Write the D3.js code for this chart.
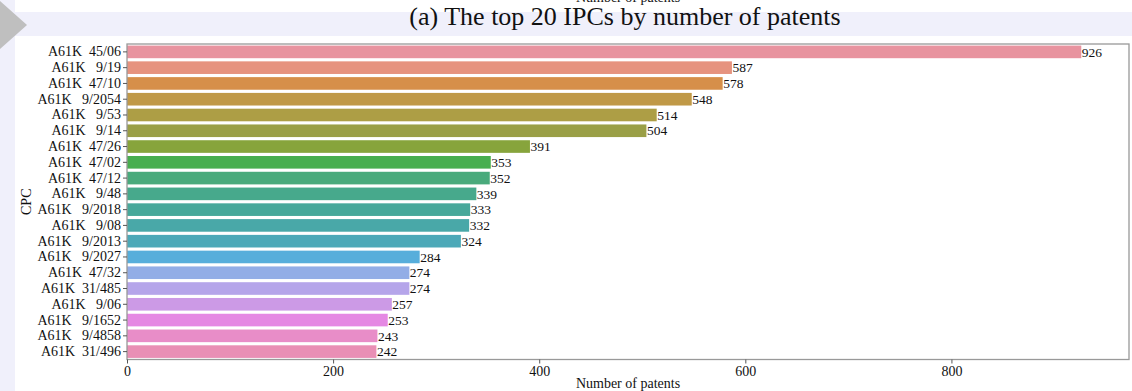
<!DOCTYPE html>
<html>
<head>
<meta charset="utf-8">
<script src="https://cdn.jsdelivr.net/npm/d3@7"></script>
<style>
  html, body { margin: 0; padding: 0; background: #ffffff; }
  svg { display: block; }
  text { font-family: "Liberation Serif", "Times New Roman", serif; fill: #111; }
</style>
</head>
<body>
<svg id="chart" width="1132" height="391"></svg>
<script>
// IPC codes, ordered by patent count
const categories = [
  "A61K  45/06", "A61K   9/19", "A61K  47/10", "A61K   9/2054", "A61K   9/53",
  "A61K   9/14", "A61K  47/26", "A61K  47/02", "A61K  47/12", "A61K   9/48",
  "A61K   9/2018", "A61K   9/08", "A61K   9/2013", "A61K   9/2027", "A61K  47/32",
  "A61K  31/485", "A61K   9/06", "A61K   9/1652", "A61K   9/4858", "A61K  31/496"
];
const counts = [926, 587, 578, 548, 514, 504, 391, 353, 352, 339, 333, 332, 324, 284, 274, 274, 257, 253, 243, 242];
const barColors = [
  "#e8939f", "#e6937f", "#d68f4a", "#c09947", "#ad9e45",
  "#9a9f46", "#87a43c", "#48ae4f", "#49aa7c", "#47a98c",
  "#47a89a", "#49a8a8", "#4ca9b8", "#57aedb", "#92ade6",
  "#b5a5ea", "#cc9ae6", "#e588e3", "#e88dc8", "#e98fb5"
];
const xTicks = [0, 200, 400, 600, 800];

const svg = d3.select("#chart");
const W = 1132, H = 391;

// page decoration: side strip, title band and marker
svg.append("rect").attr("x", 0).attr("y", 0).attr("width", 15).attr("height", H).attr("fill", "#f0f0fb");
svg.append("rect").attr("x", 15).attr("y", 12).attr("width", W - 15).attr("height", 24).attr("fill", "#f0f0fb");
svg.append("path").attr("d", "M0,1 L27,25 L0,49 Z").attr("fill", "#bfbfbf");

// stray axis caption at the very top edge
svg.append("text").attr("x", 628).attr("y", 2).attr("text-anchor", "middle")
  .style("font-size", "14px").text("Number of patents");

// title
svg.append("text").attr("x", 625).attr("y", 25).attr("text-anchor", "middle")
  .style("font-size", "26px").text("(a) The top 20 IPCs by number of patents");

const plot = { left: 127, right: 1129, top: 44, bottom: 359.5 };

const x = d3.scaleLinear().domain([0, 926 * 1.05]).range([plot.left, plot.right]);
const y = d3.scaleBand().domain(categories).range([plot.top, plot.bottom])
  .paddingInner(0.2).paddingOuter(0.1);

const rows = categories.map((c, i) => ({ cat: c, v: counts[i], color: barColors[i] }));

// bars
svg.append("g").selectAll("rect").data(rows).join("rect")
  .attr("x", x(0))
  .attr("y", d => y(d.cat))
  .attr("width", d => x(d.v) - x(0))
  .attr("height", y.bandwidth())
  .attr("fill", d => d.color);

// value labels
svg.append("g").selectAll("text").data(rows).join("text")
  .attr("x", d => x(d.v) + 0.5)
  .attr("y", d => y(d.cat) + y.bandwidth() / 2)
  .attr("dy", "0.35em")
  .style("font-size", "13.5px")
  .text(d => d.v);

// frame
svg.append("rect")
  .attr("x", plot.left).attr("y", plot.top)
  .attr("width", plot.right - plot.left).attr("height", plot.bottom - plot.top)
  .attr("fill", "none").attr("stroke", "#999").attr("stroke-width", 1.3);

// y axis
const yAxis = svg.append("g").attr("transform", `translate(${plot.left},0)`)
  .call(d3.axisLeft(y).tickSize(4).tickPadding(2));
yAxis.select(".domain").remove();
yAxis.selectAll(".tick line").attr("stroke", "#555");
yAxis.selectAll(".tick text")
  .attr("fill", "#111")
  .style("font-family", "'Liberation Serif', 'Times New Roman', serif")
  .style("font-size", "14px")
  .style("white-space", "pre");

// x axis
const xAxis = svg.append("g").attr("transform", `translate(0,${plot.bottom})`)
  .call(d3.axisBottom(x).tickValues(xTicks).tickSize(4).tickPadding(3));
xAxis.select(".domain").remove();
xAxis.selectAll(".tick line").attr("stroke", "#555");
xAxis.selectAll(".tick text")
  .attr("fill", "#111")
  .style("font-family", "'Liberation Serif', 'Times New Roman', serif")
  .style("font-size", "14px");

// axis titles
svg.append("text").attr("x", (plot.left + plot.right) / 2).attr("y", 388)
  .attr("text-anchor", "middle").style("font-size", "14px").text("Number of patents");
svg.append("text")
  .attr("transform", `translate(31,${(plot.top + plot.bottom) / 2}) rotate(-90)`)
  .attr("text-anchor", "middle").style("font-size", "14px").text("CPC");
</script>
</body>
</html>
